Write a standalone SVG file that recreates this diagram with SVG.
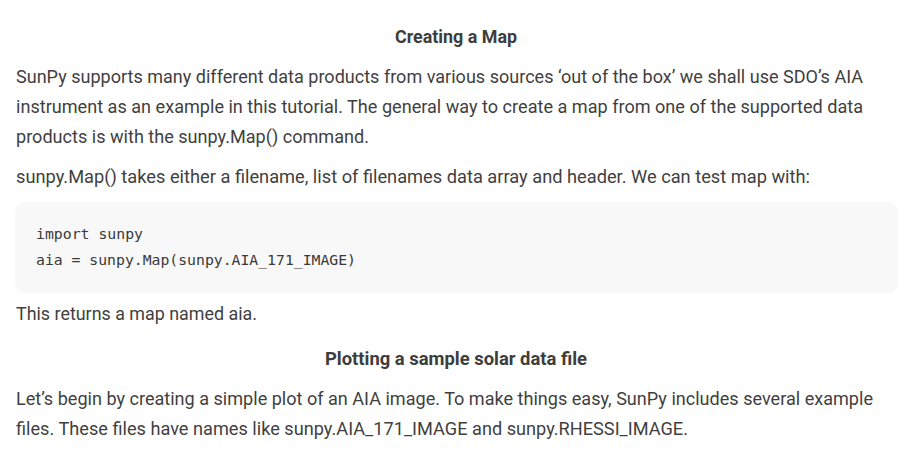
<svg xmlns="http://www.w3.org/2000/svg" width="915" height="461" viewBox="0 0 915 461">
<style>
.h{font-family:Roboto,"Noto Sans","Liberation Sans",sans-serif;font-weight:bold;font-size:17.5px;fill:#3d3d3d}
.b{font-family:Roboto,"Noto Sans","Liberation Sans",sans-serif;font-size:18px;fill:#3f3f3f}
.c{font-family:"DejaVu Sans Mono","Liberation Mono",monospace;font-size:14.5px;fill:#3a3a3a}
</style>
<rect width="915" height="461" fill="#ffffff"/>
<g id="section1">
<text class="h" x="456" y="43" text-anchor="middle" textLength="122" lengthAdjust="spacingAndGlyphs">Creating a Map</text>
<text class="b" x="16" y="83" textLength="847" lengthAdjust="spacingAndGlyphs">SunPy supports many different data products from various sources ‘out of the box’ we shall use SDO’s AIA</text>
<text class="b" x="16" y="113" textLength="847" lengthAdjust="spacingAndGlyphs">instrument as an example in this tutorial. The general way to create a map from one of the supported data</text>
<text class="b" x="16" y="143" textLength="353" lengthAdjust="spacingAndGlyphs">products is with the sunpy.Map() command.</text>
<text class="b" x="16" y="183" textLength="794" lengthAdjust="spacingAndGlyphs">sunpy.Map() takes either a filename, list of filenames data array and header. We can test map with:</text>
</g>
<g id="codeblock">
<rect x="15" y="202" width="883" height="91" rx="10" ry="10" fill="#f8f8f8"/>
<text class="c" x="36" y="239" textLength="107" lengthAdjust="spacingAndGlyphs">import sunpy</text>
<text class="c" x="36" y="265" textLength="320" lengthAdjust="spacingAndGlyphs">aia = sunpy.Map(sunpy.AIA_171_IMAGE)</text>
</g>
<g id="section2">
<text class="b" x="16" y="320" textLength="241" lengthAdjust="spacingAndGlyphs">This returns a map named aia.</text>
<text class="h" x="456" y="365" text-anchor="middle" textLength="262" lengthAdjust="spacingAndGlyphs">Plotting a sample solar data file</text>
<text class="b" x="16" y="405" textLength="857" lengthAdjust="spacingAndGlyphs">Let’s begin by creating a simple plot of an AIA image. To make things easy, SunPy includes several example</text>
<text class="b" x="16" y="435" textLength="672" lengthAdjust="spacingAndGlyphs">files. These files have names like sunpy.AIA_171_IMAGE and sunpy.RHESSI_IMAGE.</text>
</g>
</svg>
